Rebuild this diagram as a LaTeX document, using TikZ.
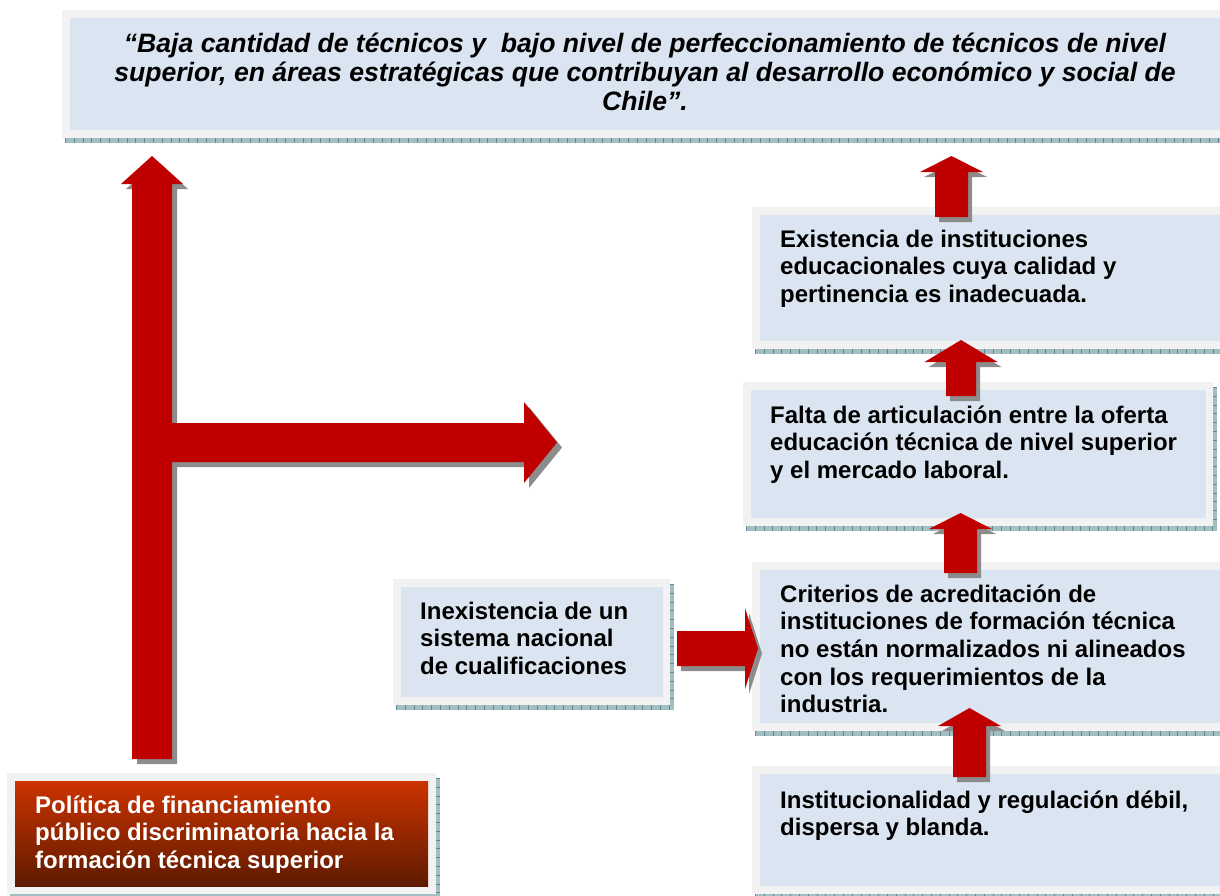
\documentclass[tikz,border=0pt]{standalone}
\usepackage{fontspec}
\setmainfont{Liberation Sans}
\definecolor{frameg}{HTML}{F2F2F2}
\definecolor{boxblue}{HTML}{DBE5F1}
\definecolor{stripc}{HTML}{A3BEC3}
\definecolor{stripd}{HTML}{5E8A92}
\definecolor{arrowred}{HTML}{C00000}
\definecolor{shadowg}{HTML}{8C8C8C}
\definecolor{redtop}{HTML}{CC3300}
\definecolor{redbot}{HTML}{5E1A00}
\newcommand{\cbox}[5]{% name, outer x1 y1 x2 y2
  \fill[stripc] (#2+3,#5) rectangle (#4+4,#5+5);
  \fill[stripc] (#4,#3+5) rectangle (#4+4,#5+5);
  \draw[stripd,line width=5pt,dash pattern=on 0.8pt off 8pt] (#2+3,#5+2.5) -- (#4+4,#5+2.5);
  \draw[stripd,line width=4pt,dash pattern=on 0.8pt off 8pt] (#4+2,#3+5) -- (#4+2,#5);
  \fill[frameg] (#2,#3) rectangle (#4,#5);
  \node[inner sep=0pt,fill=boxblue,minimum width={#4-#2-15},minimum height={#5-#3-16},anchor=north west] (#1) at (#2+8,#3+8) {};
}
\tikzset{
  boxtext/.style={anchor=north west,inner sep=0pt,align=left,font=\fontsize{24}{27.6}\selectfont\bfseries},
  redarrow/.style={fill=arrowred},
  shadowarrow/.style={fill=shadowg}
}
\newcommand{\uparr}[7]{% cx, tipy, basey, bottomy, headhalf, shafthalf, shadow dx
  \fill[shadowarrow,shift={(#7,5)}] (#1,#2) -- (#1+#5,#3) -- (#1+#6,#3) -- (#1+#6,#4) -- (#1-#6,#4) -- (#1-#6,#3) -- (#1-#5,#3) -- cycle;
  \fill[redarrow] (#1,#2) -- (#1+#5,#3) -- (#1+#6,#3) -- (#1+#6,#4) -- (#1-#6,#4) -- (#1-#6,#3) -- (#1-#5,#3) -- cycle;
}
\begin{document}
\begin{tikzpicture}[x=1pt,y=-1pt]
\useasboundingbox (0,0) rectangle (1220,895);
\clip (0,0) rectangle (1220,895);
% boxes
\cbox{topbox}{62}{10}{1227}{138}
\cbox{exist}{752}{207}{1227}{349}
\cbox{falta}{743}{382}{1213}{526}
\cbox{crit}{752}{562}{1227}{731}
\cbox{inst}{752}{766}{1227}{894}
\cbox{inex}{393}{579}{670}{705}
% red box
\fill[stripc] (10,894) rectangle (440,899);
\fill[stripc] (436,778) rectangle (440,899);
\draw[stripd,line width=4pt,dash pattern=on 0.8pt off 8pt] (438,778) -- (438,894);
\fill[frameg] (7,773) rectangle (436,894);
\node[inner sep=0pt,minimum width=413pt,minimum height=105pt,anchor=north west,top color=redtop,bottom color=redbot] (pol) at (15,781) {};
% texts
\node[anchor=north,inner sep=0pt,align=center,font=\fontsize{26.6}{29}\selectfont\bfseries\itshape] (toptext) at (645,25.5)
 {\rule{0pt}{26.5pt}“Baja cantidad de técnicos y\ \ bajo nivel de perfeccionamiento de técnicos de nivel\\superior, en áreas estratégicas que contribuyan al desarrollo económico y social de\\Chile”.};
\node[boxtext] (existtext) at (780,223) {\rule{0pt}{24pt}Existencia de instituciones\\educacionales cuya calidad y\\pertinencia es inadecuada.};
\node[boxtext] (faltatext) at (770,399) {\rule{0pt}{24pt}Falta de articulación entre la oferta\\educación técnica de nivel superior\\y el mercado laboral.};
\node[boxtext] (crittext) at (780,578) {\rule{0pt}{24pt}Criterios de acreditación de\\instituciones de formación técnica\\no están normalizados ni alineados\\con los requerimientos de la\\industria.};
\node[boxtext] (insttext) at (780,784) {\rule{0pt}{24pt}Institucionalidad y regulación débil,\\dispersa y blanda.};
\node[boxtext] (inextext) at (420,595) {\rule{0pt}{24pt}Inexistencia de un\\sistema nacional\\de cualificaciones};
\node[boxtext,text=white] (poltext) at (35,789) {\rule{0pt}{24pt}Política de financiamiento\\público discriminatoria hacia la\\formación técnica superior};
% big T arrow
\fill[shadowarrow,shift={(5,5)}] (152,156) -- (183,184) -- (172,184) -- (172,423) -- (524,423) -- (524,402) -- (557,442.5) -- (524,483) -- (524,462) -- (172,462) -- (172,759) -- (132,759) -- (132,184) -- (121,184) -- cycle;
\fill[redarrow] (152,156) -- (183,184) -- (172,184) -- (172,423) -- (524,423) -- (524,402) -- (557,442.5) -- (524,483) -- (524,462) -- (172,462) -- (172,759) -- (132,759) -- (132,184) -- (121,184) -- cycle;
% Inexistencia -> Criterios
\fill[shadowarrow,shift={(4,5)}] (677,631) -- (745,631) -- (745,608) -- (758,648.5) -- (745,689) -- (745,666) -- (677,666) -- cycle;
\fill[redarrow] (677,631) -- (745,631) -- (745,608) -- (758,648.5) -- (745,689) -- (745,666) -- (677,666) -- cycle;
% up arrows
\uparr{951.5}{156}{172}{217}{31.5}{16.5}{4}
\uparr{961}{340}{362}{396}{36.5}{15}{4}
\uparr{960.5}{513}{529}{573}{31.5}{16.5}{4}
\uparr{969.5}{708}{726}{777}{31.5}{16.5}{4}
\end{tikzpicture}
\end{document}
